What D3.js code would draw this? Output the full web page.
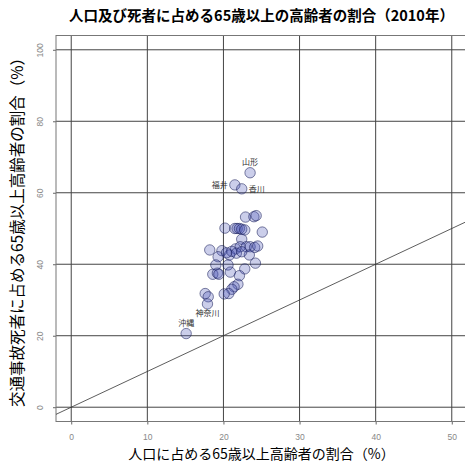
<!DOCTYPE html>
<html>
<head>
<meta charset="utf-8">
<script src="https://cdn.jsdelivr.net/npm/d3@7"></script>
<style>
  html, body { margin: 0; padding: 0; background: #fff; }
  svg { display: block; font-family: "Noto Sans CJK JP", "Noto Sans", sans-serif; }
</style>
</head>
<body>
<svg id="chart" width="465" height="463"></svg>
<script>
// Share of people aged 65+ by prefecture: population (x) vs. traffic-accident deaths (y), 2010
const popShare = [
  23.5, 21.5, 22.4, 22.9, 24.0, 24.3, 20.2,
  21.5, 21.8, 22.1, 22.4, 22.8, 25.1, 22.4,
  18.2, 19.8, 21.6, 22.2, 23.0, 23.5, 24.1,
  19.3, 20.8, 23.4, 24.2, 19.0, 20.6, 22.8,
  22.1, 20.9, 18.6, 19.2, 19.4, 21.9, 21.4,
  21.1, 20.7, 20.1, 17.6, 18.0, 17.9, 15.1,
  21.1, 20.4, 21.7, 22.4, 24.5
];
const deathShare = [
  65.6, 62.2, 61.1, 53.2, 53.3, 53.6, 50.1,
  50.0, 50.0, 50.0, 49.8, 49.6, 49.0, 47.0,
  44.0, 43.8, 44.3, 44.9, 44.9, 44.9, 44.7,
  42.1, 42.6, 42.6, 40.3, 39.8, 39.8, 38.7,
  36.8, 37.8, 37.2, 37.5, 37.2, 34.4, 33.7,
  33.0, 31.8, 31.7, 31.8, 30.9, 28.9, 20.6,
  43.6, 43.2, 43.1, 43.5, 45.1
];
// Prefectures that get a name tag: index into the arrays above and tag placement
const labelNames = ["山形", "福井", "香川", "神奈川", "沖縄"];
const labelIndex = [0, 1, 2, 40, 41];
const labelSide  = ["top", "left", "right", "bottom", "top"];

const xTicks = [0, 10, 20, 30, 40, 50];
const yTicks = [0, 20, 40, 60, 80, 100];

const svg = d3.select("#chart");
const mLeft = 56, mRight = 467, mTop = 35.5, mBottom = 421.5;

const x = d3.scaleLinear().domain([-2, 52]).range([mLeft, mRight]);
const y = d3.scaleLinear().domain([-4, 104]).range([mBottom, mTop]);

const points = popShare.map((v, i) => ({ x: v, y: deathShare[i] }));

// Grid lines
svg.append("g").selectAll("line").data(xTicks).join("line")
  .attr("x1", d => x(d)).attr("x2", d => x(d))
  .attr("y1", mTop).attr("y2", mBottom)
  .attr("stroke", "#444").attr("stroke-width", 1);
svg.append("g").selectAll("line").data(yTicks).join("line")
  .attr("y1", d => y(d)).attr("y2", d => y(d))
  .attr("x1", mLeft).attr("x2", mRight)
  .attr("stroke", "#444").attr("stroke-width", 1);

// Axes (tick labels plus short outward ticks)
const xAxis = svg.append("g")
  .attr("transform", `translate(0,${mBottom})`)
  .call(d3.axisBottom(x).tickValues(xTicks).tickSize(3).tickPadding(9));
const yAxis = svg.append("g")
  .attr("transform", `translate(${mLeft},0)`)
  .call(d3.axisLeft(y).tickValues(yTicks).tickSize(3).tickPadding(9));
[xAxis, yAxis].forEach(a => {
  a.select(".domain").remove();
  a.selectAll(".tick line").attr("stroke", "#666");
  a.selectAll(".tick text").attr("fill", "#888")
    .style("font-family", "Liberation Sans, Arial, sans-serif")
    .style("font-size", "8.5px");
});
yAxis.selectAll(".tick text")
  .attr("transform", "rotate(-90)")
  .attr("x", 0).attr("dy", 0)
  .attr("text-anchor", "middle")
  .attr("y", -13);

// Plot box
svg.append("rect")
  .attr("x", mLeft).attr("y", mTop)
  .attr("width", mRight - mLeft).attr("height", mBottom - mTop)
  .attr("fill", "none").attr("stroke", "#777").attr("stroke-width", 1);

// Reference line y = x
svg.append("line")
  .attr("x1", x(-2)).attr("y1", y(-2))
  .attr("x2", x(52)).attr("y2", y(52))
  .attr("stroke", "#333").attr("stroke-width", 0.8);

// Points
svg.append("g").selectAll("circle").data(points).join("circle")
  .attr("cx", d => x(d.x)).attr("cy", d => y(d.y)).attr("r", 5.2)
  .attr("fill", "rgba(70,80,180,0.28)")
  .attr("stroke", "rgba(25,30,90,0.7)").attr("stroke-width", 0.8);

// Name tags
const off = { top: [0, -8, "middle"], bottom: [0, 12, "middle"], left: [-7, 3, "end"], right: [7, 3, "start"] };
svg.append("g").selectAll("text").data(labelIndex).join("text")
  .attr("x", (d, i) => x(popShare[d]) + off[labelSide[i]][0])
  .attr("y", (d, i) => y(deathShare[d]) + off[labelSide[i]][1])
  .attr("text-anchor", (d, i) => off[labelSide[i]][2])
  .attr("fill", "#333").style("font-size", "8px")
  .text((d, i) => labelNames[i]);

// Title and axis titles
svg.append("text")
  .attr("x", (mLeft + mRight) / 2).attr("y", 21)
  .attr("text-anchor", "middle")
  .style("font-size", "14.5px").style("font-weight", "bold")
  .text("人口及び死者に占める65歳以上の高齢者の割合（2010年）");
svg.append("text")
  .attr("x", (mLeft + mRight) / 2).attr("y", 459)
  .attr("text-anchor", "middle")
  .style("font-size", "14px")
  .text("人口に占める65歳以上高齢者の割合（%）");
svg.append("text")
  .attr("transform", `translate(23,${(mTop + mBottom) / 2}) rotate(-90)`)
  .attr("text-anchor", "middle")
  .style("font-size", "15.5px")
  .text("交通事故死者に占める65歳以上高齢者の割合（%）");
</script>
</body>
</html>
